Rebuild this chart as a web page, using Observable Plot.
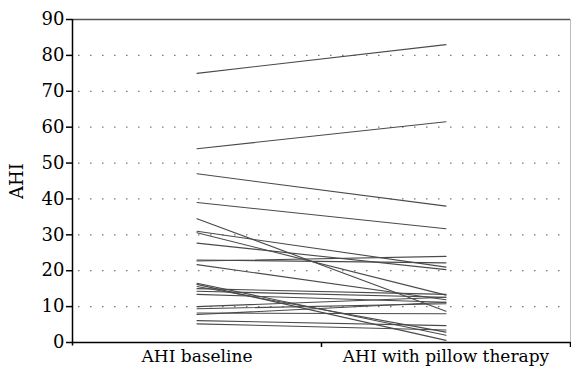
<!DOCTYPE html>
<html><head><meta charset="utf-8">
<script src="https://cdn.jsdelivr.net/npm/d3@7"></script>
<script src="https://cdn.jsdelivr.net/npm/@observablehq/plot@0.6"></script>
<style>
body{margin:0;background:#fff}
text{font-family:"DejaVu Serif"}
</style>
</head><body><div id="chart"></div>
<script>
const categories = ["AHI baseline", "AHI with pillow therapy"];
const baseline = [75, 54, 47, 39, 34.5, 31, 30.6, 27.7, 23, 22.7, 21.7, 16.5, 16.2, 15.6, 15.0, 14.3, 13.4, 10.0, 9.4, 8.2, 7.8, 6.1, 5.2];
const pillow   = [83, 61.5, 38, 31.7, 8.7, 21, 13.2, 20.3, 22.2, 24, 11.9, 2.0, 0.6, 2.9, 13.4, 12.6, 11.2, 12.6, 10.8, 8.0, 11.2, 4.7, 3.5];
const yTicks = [0, 10, 20, 30, 40, 50, 60, 70, 80, 90];
const gridTicks = [10, 20, 30, 40, 50, 60, 70, 80];

const series = [baseline, pillow];
const rows = [];
baseline.forEach((_, i) => {
  categories.forEach((c, k) => rows.push({patient: i, category: c, pos: k + 0.5, value: series[k][i]}));
});
const centers = categories.map((c, k) => k + 0.5);
const bounds = categories.map((c, k) => k + 1);
const FONT = "DejaVu Serif";

const chart = Plot.plot({
  width: 571, height: 374,
  marginLeft: 72, marginRight: 1, marginTop: 19, marginBottom: 32,
  style: {fontFamily: FONT, fontSize: "18px", background: "#fff", color: "#000"},
  x: {domain: [0, categories.length], label: null},
  y: {domain: [0, 90], label: null},
  marks: [
    Plot.ruleY(gridTicks, {stroke: "#777", strokeWidth: 1.2, strokeDasharray: "1.5,10.5", strokeDashoffset: 6}),
    Plot.ruleY([90], {stroke: "#555", strokeWidth: 1.5}),
    Plot.ruleX([categories.length], {stroke: "#bbb", strokeWidth: 1}),
    Plot.line(rows, {x: "pos", y: "value", z: "patient", stroke: "#4a4a4a", strokeWidth: 1.1}),
    Plot.ruleY([0], {stroke: "#000", strokeWidth: 1.5}),
    Plot.ruleX([0], {y1: -1, y2: 90, stroke: "#000", strokeWidth: 1.5}),
    Plot.axisY({ticks: yTicks, tickSize: 6, tickPadding: 2, strokeWidth: 1.5, fontSize: 18, fontFamily: FONT,
      label: "AHI", labelAnchor: "center", labelArrow: "none", labelOffset: 62}),
    Plot.axisX({ticks: bounds, tickSize: 5, strokeWidth: 1.5, tickFormat: () => "", label: null}),
    Plot.axisX({ticks: centers, tickSize: 0, tickPadding: 7, fontSize: 17, fontFamily: FONT,
      tickFormat: d => categories[Math.round(d - 0.5)], label: null})
  ]
});
document.getElementById("chart").appendChild(chart);
</script>
</body></html>
